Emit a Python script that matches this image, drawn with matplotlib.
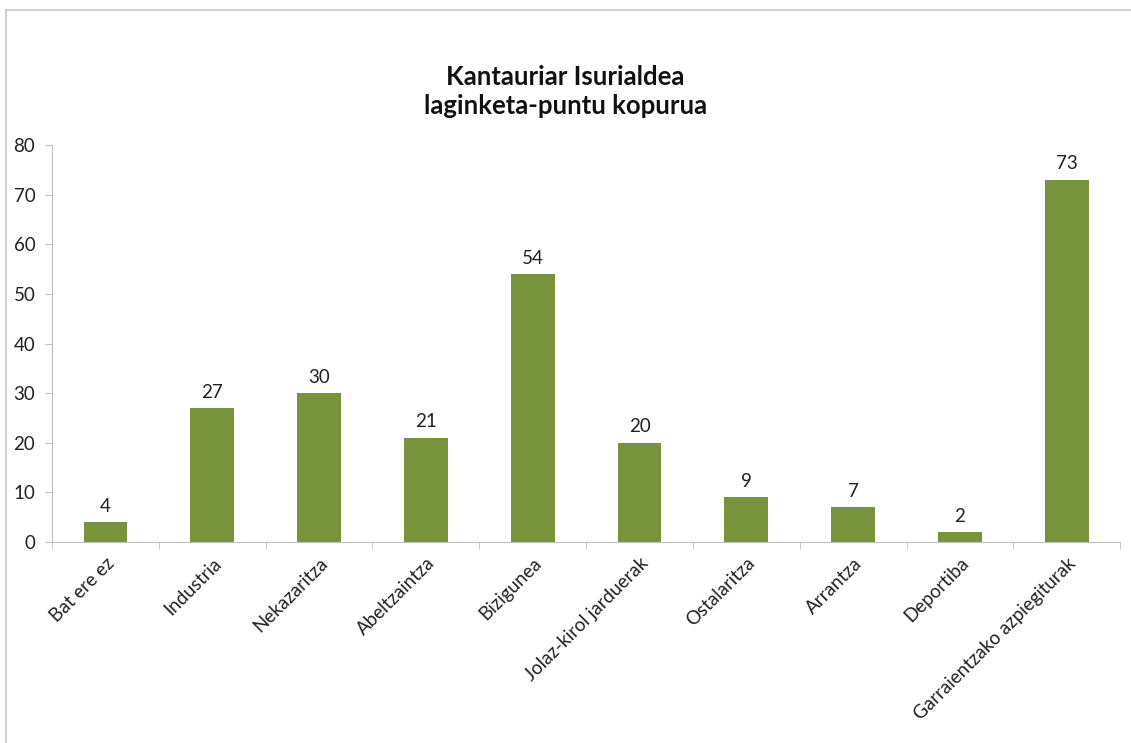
import matplotlib.pyplot as plt
from matplotlib.lines import Line2D
import numpy as np

categories = ['Bat ere ez', 'Industria', 'Nekazaritza', 'Abeltzaintza', 'Bizigunea',
              'Jolaz-kirol jarduerak', 'Ostalaritza', 'Arrantza', 'Deportiba',
              'Garraientzako azpiegiturak']
values = [4, 27, 30, 21, 54, 20, 9, 7, 2, 73]
yticks = [0, 10, 20, 30, 40, 50, 60, 70, 80]

plt.rcParams['font.family'] = ['Lato', 'DejaVu Sans']

fig = plt.figure(figsize=(11.31, 7.43), dpi=100)
ax = fig.add_axes([0.046, 0.2705, 0.9445, 0.5343])

x = np.arange(len(categories))
ax.bar(x, values, width=0.41, color='#77933C')
for xi, v in zip(x, values):
    ax.text(xi, v + 1.5, str(v), ha='center', va='bottom', fontsize=13.5, color='#222222')

ax.set_xlim(-0.5, len(categories) - 0.5)
ax.set_ylim(0, 80)
ax.set_yticks(yticks)
ax.tick_params(axis='y', labelsize=13.5, length=5, color='#bfbfbf', labelcolor='#222222', pad=7)

ax.set_xticks(x)
ax.set_xticklabels(categories, rotation=45, ha='right', rotation_mode='anchor', fontsize=13.5, color='#222222')
ax.tick_params(axis='x', length=0, pad=9)
ax.set_xticks(np.arange(len(categories) + 1) - 0.5, minor=True)
ax.tick_params(axis='x', which='minor', length=5, color='#bfbfbf')

for s in ['top', 'right']:
    ax.spines[s].set_visible(False)
for s in ['left', 'bottom']:
    ax.spines[s].set_color('#bfbfbf')

fig.text(0.5, 0.8775, 'Kantauriar Isurialdea\nlaginketa-puntu kopurua', ha='center', va='center',
         fontsize=18.5, fontweight='bold', color='#111111', linespacing=1.25)

# outer chart frame (only top and left edges visible)
fig.add_artist(Line2D([6 / 1131, 1], [1 - 10 / 743, 1 - 10 / 743], transform=fig.transFigure, color='#c8c8c8', lw=1.2))
fig.add_artist(Line2D([6 / 1131, 6 / 1131], [0, 1 - 10 / 743], transform=fig.transFigure, color='#c8c8c8', lw=1.2))

fig.savefig('out.png', dpi=100, facecolor='white')
